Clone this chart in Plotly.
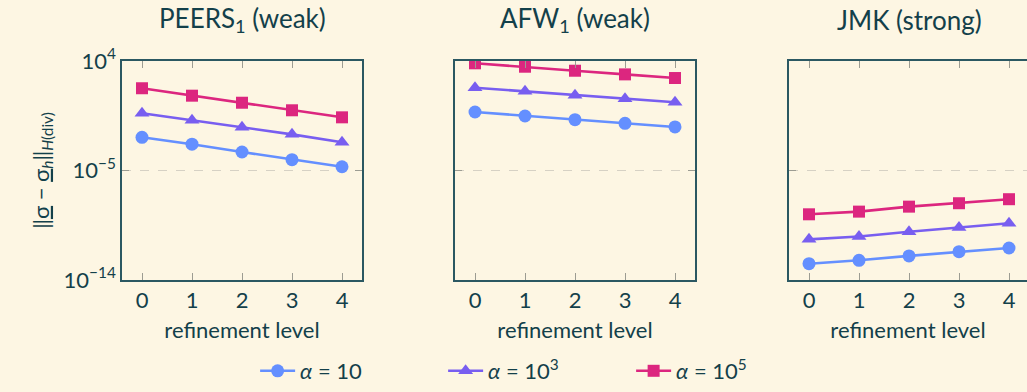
import plotly.graph_objects as go

levels = [0, 1, 2, 3, 4]
panel_titles = ["PEERS<sub>1</sub> (weak)", "AFW<sub>1</sub> (weak)", "JMK (strong)"]
series_names = ["<i>α</i> = 10", "<i>α</i> = 10<sup>3</sup>", "<i>α</i> = 10<sup>5</sup>"]

# log10 of error values
peers_a10 = [-2.27, -2.84, -3.48, -4.11, -4.69]
peers_a1e3 = [-0.30, -0.88, -1.45, -2.03, -2.68]
peers_a1e5 = [1.76, 1.15, 0.57, -0.05, -0.63]
afw_a10 = [-0.19, -0.52, -0.82, -1.12, -1.42]
afw_a1e3 = [1.80, 1.51, 1.19, 0.90, 0.61]
afw_a1e5 = [3.81, 3.53, 3.20, 2.90, 2.60]
jmk_a10 = [-12.66, -12.38, -12.02, -11.67, -11.37]
jmk_a1e3 = [-10.66, -10.42, -10.04, -9.68, -9.34]
jmk_a1e5 = [-8.60, -8.38, -7.97, -7.69, -7.36]

ytick_vals = [1e4, 1e-5, 1e-14]
ytick_text = ["10<sup>4</sup>", "10<sup>−5</sup>", "10<sup>−14</sup>"]

colors = ["#648FFF", "#785EF0", "#DC267F"]
symbols = ["circle", "triangle-up", "square"]
marker_sizes = [13, 13, 12]

BG = "#FDF6E3"
TXT = "#13404A"
AXL = "#2B5862"
TICKC = "#9C9C92"
GRIDC = "#D6D1C4"
FONT = "Lato, 'Open Sans', sans-serif"

panels = [
    [peers_a10, peers_a1e3, peers_a1e5],
    [afw_a10, afw_a1e3, afw_a1e5],
    [jmk_a10, jmk_a1e3, jmk_a1e5],
]

W, H = 1027, 392
xdom_px = [(122, 362), (455, 695), (789, 1027)]
xranges = [[-0.4, 4.4], [-0.4, 4.4], [-0.4, 4.36]]
ydom = [(H - 280) / H, (H - 61) / H]

fig = go.Figure()
for p, data in enumerate(panels):
    ax = "" if p == 0 else str(p + 1)
    for s, vals in enumerate(data):
        fig.add_trace(go.Scatter(
            x=levels, y=[10 ** v for v in vals],
            mode="lines+markers",
            line=dict(color=colors[s], width=2.6),
            marker=dict(symbol=symbols[s], size=marker_sizes[s], color=colors[s]),
            name=series_names[s], showlegend=(p == 0),
            xaxis="x" + ax, yaxis="y" + ax,
        ))
    xa = dict(
        domain=[xdom_px[p][0] / W, xdom_px[p][1] / W],
        range=xranges[p], tickvals=levels, ticktext=[str(l) for l in levels],
        ticks="inside", ticklen=7, tickcolor=TICKC, tickwidth=1,
        showline=True, linecolor=AXL, linewidth=1.5, mirror="ticks",
        showgrid=False, zeroline=False, automargin=False,
        tickfont=dict(size=22, color=TXT, family=FONT),
        title=dict(text="refinement level", font=dict(size=22, color=TXT, family=FONT), standoff=10),
        anchor="y" + ax,
    )
    ya = dict(
        domain=ydom, type="log", range=[-14, 4],
        tickvals=ytick_vals, ticktext=ytick_text if p == 0 else ["", "", ""],
        ticks="inside", ticklen=7, tickcolor=TICKC, tickwidth=1,
        showline=True, linecolor=AXL, linewidth=1.5,
        mirror="ticks" if p < 2 else False,
        showgrid=True, gridcolor=GRIDC, griddash="dash", gridwidth=1.2,
        zeroline=False, automargin=False,
        tickfont=dict(size=22, color=TXT, family=FONT),
        anchor="x" + ax,
    )
    if p == 0:
        ya["title"] = dict(
            text="‖<u>σ</u> − <u>σ</u><sub><i>h</i></sub>‖<sub><i>H</i>(div)</sub>",
            font=dict(size=22, color=TXT, family=FONT), standoff=8)
    fig.update_layout(**{"xaxis" + ax: xa, "yaxis" + ax: ya})
    cx = (xdom_px[p][0] + xdom_px[p][1]) / 2 / W
    if p == 2:
        cx = (789 + 1029) / 2 / W
    fig.add_annotation(
        text=panel_titles[p], x=cx, y=1 - 20 / H, xref="paper", yref="paper",
        showarrow=False, xanchor="center", yanchor="middle",
        font=dict(size=26, color=TXT, family=FONT),
    )

fig.update_layout(
    width=W, height=H,
    margin=dict(l=0, r=0, t=0, b=0),
    paper_bgcolor=BG, plot_bgcolor=BG,
    font=dict(family=FONT, color=TXT),
    legend=dict(
        orientation="h", x=0.523, xanchor="center", y=0, yanchor="bottom",
        entrywidth=138, entrywidthmode="pixels",
        font=dict(size=22, color=TXT, family=FONT),
        bgcolor="rgba(0,0,0,0)", itemwidth=35,
    ),
)

fig.write_html(
    "out.html",
    config={"displayModeBar": False},
    post_script="document.body.style.margin='0';document.body.style.padding='0';"
                "document.body.style.overflow='hidden';document.body.style.background='#FDF6E3';",
)
